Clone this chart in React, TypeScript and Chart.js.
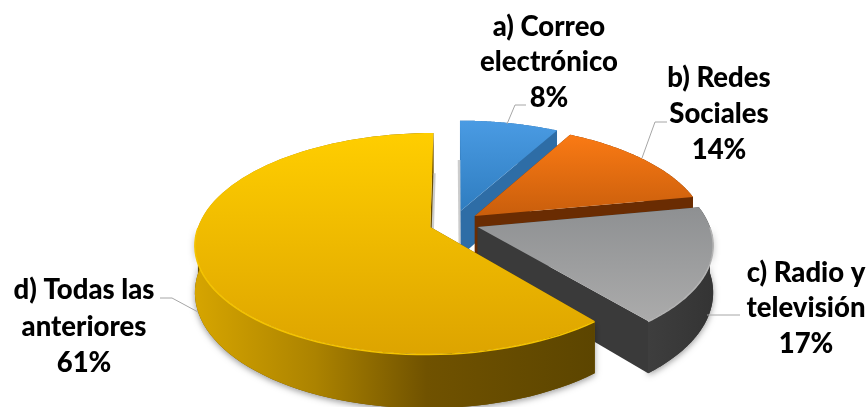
import React, { useEffect, useRef } from "react";
import { Chart, registerables } from "chart.js";

Chart.register(...registerables);

// Survey shares, in percent
const categories = ["a) Correo electrónico", "b) Redes Sociales", "c) Radio y televisión", "d) Todas las anteriores"];
const shares = [8, 14, 17, 61];
const categoryLines = [
  ["a) Correo", "electrónico"],
  ["b) Redes", "Sociales"],
  ["c) Radio y", "televisión"],
  ["d) Todas las", "anteriores"],
];

// Slice appearance
const explosions = [28, 26, 25, 25];
const topColors = [
  ["#4A9BE3", "#2F7DC0"],
  ["#FA7A14", "#C95E0C"],
  ["#8E9092", "#ABABAB"],
  ["#FFCE00", "#DDA400"],
];
const rimColors = ["#4A9BE3", "#F0802A", "#B4B4B4", "#F5C400"];
const wallColors = [
  [[0, "#2E6DA6"], [1, "#2E6DA6"]],
  [[0, "#6A2C02"], [1, "#6A2C02"]],
  [[0, "#3E3E3E"], [1, "#343434"]],
  [[0, "#D6A500"], [0.3, "#AC8300"], [0.58, "#705200"], [1, "#5C4500"]],
];
const sideColors = ["#2E6DA6", "#6A2C02", "#3A3A3A", "#6A4E00"];
const paintOrder = [0, 1, 2, 3];
// Slices whose cut edge throws a thin shadow on the page: [index, edge, side of the edge]
const edgeShadows: [number, "start" | "end", number][] = [
  [0, "start", -1],
  [3, "end", 1],
];

// Oblique view of the pie plane
const TILT = 0.4625;
const VIEW_DISTANCE = 1552;
const THICKNESS = 46;
const STEPS = 90;

// Callout placement: text centre, line baselines and leader polyline
const callouts = [
  { x: 549, lines: [36, 71, 107], leader: [[507, 124], [515, 105], [526, 105]] },
  { x: 719, lines: [87, 123, 159], leader: [[642, 158], [655, 122], [667, 122]] },
  { x: 806, lines: [282, 317, 353], leader: [[707, 315], [740, 315]] },
  { x: 84, lines: [299, 336, 372], leader: [[160, 298], [172, 298], [198, 312]] },
];

const perspectivePie = {
  id: "perspectivePie",
  beforeDatasetsDraw(chart: any) {
    const ctx = chart.ctx as CanvasRenderingContext2D;
    const arcs = chart.getDatasetMeta(0).data;
    const cx = arcs[0].x;
    const cy = arcs[0].y;

    const project = (u: number, v: number, h = 0) => {
      const w = 1 / (1 - v / VIEW_DISTANCE);
      return [cx + u * w, cy + (TILT * v + h) * w];
    };

    for (const i of paintOrder) {
      const arc = arcs[i];
      const { startAngle, endAngle, outerRadius, options } = arc;
      const mid = (startAngle + endAngle) / 2;
      const ox = options.offset * Math.cos(mid);
      const oy = options.offset * Math.sin(mid);
      const rim = (a: number, h = 0) =>
        project(ox + outerRadius * Math.cos(a), oy + outerRadius * Math.sin(a), h);
      const apex = (h = 0) => project(ox, oy, h);
      const angles: number[] = [];
      for (let s = 0; s <= STEPS; s++) angles.push(startAngle + ((endAngle - startAngle) * s) / STEPS);

      const tracePoints = (pts: number[][]) => {
        ctx.beginPath();
        pts.forEach((p, n) => (n ? ctx.lineTo(p[0], p[1]) : ctx.moveTo(p[0], p[1])));
        ctx.closePath();
      };

      const topPts = [apex(), ...angles.map((a) => rim(a))];
      const wallPts = [...angles.map((a) => rim(a)), ...angles.slice().reverse().map((a) => rim(a, THICKNESS))];
      const xs = wallPts.map((p) => p[0]);
      const ys = topPts.map((p) => p[1]);

      // Thin shadow beside a cut edge, at the level of the base
      for (const [slice, edge, side] of edgeShadows) {
        if (slice !== i) continue;
        const a = edge === "start" ? startAngle : endAngle;
        const from = rim(a, THICKNESS);
        const to = apex(THICKNESS);
        ctx.beginPath();
        ctx.moveTo(from[0] + side, from[1]);
        ctx.lineTo(to[0] + side, to[1]);
        ctx.strokeStyle = "rgba(0,0,0,0.2)";
        ctx.lineWidth = 2.5;
        ctx.stroke();
      }

      // Soft contact shadow under the near part of the body
      const frontAngles = angles.filter((a) => Math.sin(a) > 0);
      if (frontAngles.length > 1) {
        ctx.save();
        ctx.shadowColor = "rgba(0,0,0,0.4)";
        ctx.shadowBlur = 6;
        ctx.shadowOffsetY = 2;
        tracePoints([
          ...frontAngles.map((a) => rim(a)),
          ...frontAngles.slice().reverse().map((a) => rim(a, THICKNESS)),
        ]);
        ctx.fillStyle = sideColors[i];
        ctx.fill();
        ctx.restore();
      }

      // Cut faces of the slice
      for (const a of [startAngle, endAngle]) {
        tracePoints([apex(), rim(a), rim(a, THICKNESS), apex(THICKNESS)]);
        ctx.fillStyle = sideColors[i];
        ctx.fill();
      }

      // Curved outer wall
      const wall = ctx.createLinearGradient(Math.min(...xs), 0, Math.max(...xs), 0);
      wallColors[i].forEach(([stop, color]) => wall.addColorStop(stop as number, color as string));
      tracePoints(wallPts);
      ctx.fillStyle = wall;
      ctx.fill();

      // Top face
      const top = ctx.createLinearGradient(0, Math.min(...ys), 0, Math.max(...ys));
      top.addColorStop(0, topColors[i][0]);
      top.addColorStop(1, topColors[i][1]);
      tracePoints(topPts);
      ctx.fillStyle = top;
      ctx.fill();

      // Bevel highlight along the near rim
      ctx.beginPath();
      frontAngles.forEach((a, n) => {
        const p = rim(a, 0.5);
        if (n) ctx.lineTo(p[0], p[1]);
        else ctx.moveTo(p[0], p[1]);
      });
      ctx.strokeStyle = rimColors[i];
      ctx.lineWidth = 1.5;
      ctx.stroke();
    }

    // Leader lines and callout text
    ctx.save();
    callouts.forEach((c, i) => {
      ctx.beginPath();
      c.leader.forEach((p, n) => (n ? ctx.lineTo(p[0], p[1]) : ctx.moveTo(p[0], p[1])));
      ctx.strokeStyle = "#A6A6A6";
      ctx.lineWidth = 1;
      ctx.stroke();
      ctx.fillStyle = "#000000";
      ctx.font = "900 27.5px Lato";
      ctx.textAlign = "center";
      ctx.textBaseline = "alphabetic";
      [...categoryLines[i], `${shares[i]}%`].forEach((text, n) => ctx.fillText(text, c.x, c.lines[n]));
    });
    ctx.restore();
    return false;
  },
};

export default function App() {
  const canvasRef = useRef<HTMLCanvasElement>(null);

  useEffect(() => {
    const chart = new Chart(canvasRef.current!, {
      type: "pie",
      data: {
        labels: categories,
        datasets: [{ data: shares, offset: explosions, borderWidth: 0 }],
      },
      options: {
        responsive: false,
        animation: false,
        radius: 231,
        layout: { padding: { left: 40, top: 39 } },
        plugins: { legend: { display: false }, tooltip: { enabled: false } },
      } as any,
      plugins: [perspectivePie],
    });
    return () => chart.destroy();
  }, []);

  return (
    <div style={{ position: "absolute", left: 0, top: 0 }}>
      <canvas ref={canvasRef} width={868} height={407} style={{ display: "block" }} />
    </div>
  );
}
